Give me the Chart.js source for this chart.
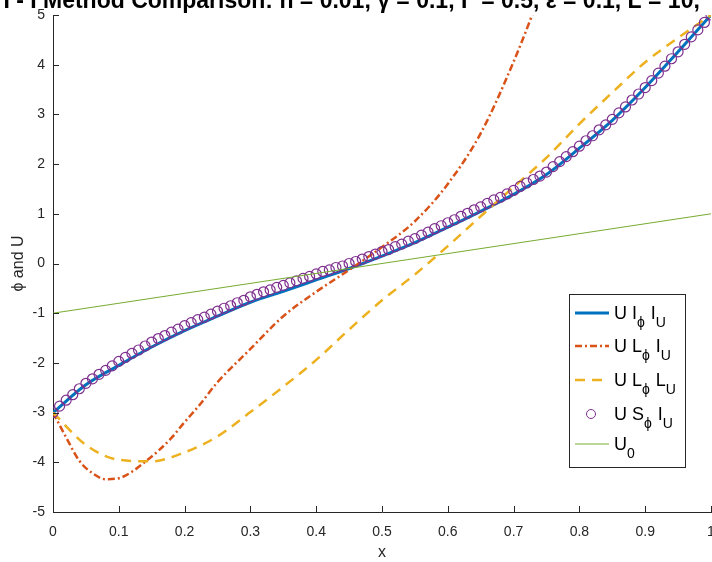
<!DOCTYPE html>
<html><head><meta charset="utf-8">
<script src="https://cdn.jsdelivr.net/npm/chart.js@4/dist/chart.umd.min.js"></script>
<style>html,body{margin:0;padding:0;background:#fff;overflow:hidden}</style>
</head><body>
<canvas id="c" width="712" height="562"></canvas>
<script>
// ---------------- data ----------------
const titleText = 'I - I Method Comparison: h = 0.01, γ = 0.1, Γ = 0.5, ε = 0.1, L = 10, ';
const xAxisTitle = 'x';
const yAxisTitle = 'ϕ and U';
const xTickValues = [0,0.1,0.2,0.3,0.4,0.5,0.6,0.7,0.8,0.9,1];
const yTickValues = [-5,-4,-3,-2,-1,0,1,2,3,4,5];

const seriesLabels = ['U I_ϕ I_U','U L_ϕ I_U','U L_ϕ L_U','U S_ϕ I_U','U_0'];

const xGrid = [0,0.05,0.10,0.15,0.20,0.25,0.30,0.35,0.40,0.45,0.50,0.55,0.60,0.65,0.70,0.75,0.80,0.85,0.90,0.95,1.00];
const uIphiIU = [-3.00,-2.44,-2.05,-1.68,-1.35,-1.06,-0.78,-0.56,-0.33,-0.10,0.15,0.42,0.73,1.05,1.39,1.79,2.32,2.88,3.54,4.26,5.00];
const uLphiLU = [-3.00,-3.65,-3.95,-3.98,-3.80,-3.48,-2.99,-2.48,-1.94,-1.33,-0.74,-0.22,0.35,0.95,1.54,2.13,2.81,3.44,4.05,4.54,5.00];

const xRed = [0,0.02,0.04,0.06,0.08,0.10,0.12,0.14,0.16,0.18,0.20,0.22,0.25,0.30,0.35,0.40,0.45,0.50,0.55,0.60,0.65,0.70,0.75];
const uLphiIU = [-3.00,-3.50,-3.97,-4.22,-4.34,-4.32,-4.19,-3.99,-3.77,-3.51,-3.19,-2.89,-2.39,-1.72,-1.06,-0.57,-0.13,0.33,0.85,1.60,2.62,4.06,5.75];

const xFine = [0,0.01,0.02,0.03,0.04,0.05,0.06,0.07,0.08,0.09,
0.10,0.11,0.12,0.13,0.14,0.15,0.16,0.17,0.18,0.19,
0.20,0.21,0.22,0.23,0.24,0.25,0.26,0.27,0.28,0.29,
0.30,0.31,0.32,0.33,0.34,0.35,0.36,0.37,0.38,0.39,
0.40,0.41,0.42,0.43,0.44,0.45,0.46,0.47,0.48,0.49,
0.50,0.51,0.52,0.53,0.54,0.55,0.56,0.57,0.58,0.59,
0.60,0.61,0.62,0.63,0.64,0.65,0.66,0.67,0.68,0.69,
0.70,0.71,0.72,0.73,0.74,0.75,0.76,0.77,0.78,0.79,
0.80,0.81,0.82,0.83,0.84,0.85,0.86,0.87,0.88,0.89,
0.90,0.91,0.92,0.93,0.94,0.95,0.96,0.97,0.98,0.99,1.00];
const uSphiIU = [-3.00,-2.87,-2.75,-2.64,-2.52,-2.41,-2.32,-2.23,-2.15,-2.06,
-1.97,-1.89,-1.81,-1.74,-1.66,-1.58,-1.51,-1.45,-1.38,-1.32,
-1.25,-1.19,-1.13,-1.08,-1.02,-0.96,-0.90,-0.85,-0.79,-0.74,
-0.67,-0.62,-0.57,-0.53,-0.48,-0.44,-0.39,-0.35,-0.30,-0.26,
-0.21,-0.16,-0.13,-0.08,-0.05,0.00,0.04,0.09,0.14,0.19,
0.24,0.28,0.34,0.39,0.45,0.50,0.57,0.63,0.70,0.76,
0.82,0.88,0.95,1.01,1.08,1.14,1.21,1.28,1.33,1.40,
1.47,1.55,1.62,1.69,1.76,1.84,1.95,2.05,2.15,2.25,
2.36,2.47,2.57,2.69,2.79,2.90,3.03,3.15,3.29,3.41,
3.54,3.68,3.83,3.97,4.12,4.26,4.41,4.56,4.70,4.85,5.00];

const xU0 = [0,1];
const u0 = [-1,1];

// ---------------- build ----------------
const pts = (xs, ys) => xs.map((x,i)=>({x:x, y:ys[i]}));
const FONT = '"Liberation Sans", Arial, Helvetica, sans-serif';
const AXIS = '#262626';

const datasets = [
  {label:seriesLabels[0], data:pts(xGrid,uIphiIU), showLine:true, borderColor:'#0072BD', borderWidth:3,
   pointRadius:0, cubicInterpolationMode:'monotone', order:5, clip:0},
  {label:seriesLabels[1], data:pts(xRed,uLphiIU), showLine:true, borderColor:'#D95319', borderWidth:2.5,
   borderDash:[7,3,2,3], pointRadius:0, cubicInterpolationMode:'monotone', order:4, clip:0},
  {label:seriesLabels[2], data:pts(xGrid,uLphiLU), showLine:true, borderColor:'#EDB120', borderWidth:2.5,
   borderDash:[10,7], pointRadius:0, cubicInterpolationMode:'monotone', order:3, clip:0},
  {label:seriesLabels[3], data:pts(xFine,uSphiIU), showLine:false, borderColor:'#7E2F8E', backgroundColor:'rgba(0,0,0,0)',
   pointRadius:5, pointBorderWidth:1.2, pointBorderColor:'#7E2F8E', pointBackgroundColor:'rgba(0,0,0,0)', order:2, clip:0},
  {label:seriesLabels[4], data:pts(xU0,u0), showLine:true, borderColor:'#77AC30', borderWidth:1,
   pointRadius:0, order:1, clip:0}
];

function parseLabel(s){
  const parts=[]; let buf='';
  for(let i=0;i<s.length;i++){
    if(s[i]==='_' && i+1<s.length){ if(buf){parts.push([buf,false]);buf='';} parts.push([s[i+1],true]); i++; }
    else buf+=s[i];
  }
  if(buf) parts.push([buf,false]);
  return parts;
}

const bgPlugin = {id:'bg', beforeDraw(chart){const c=chart.ctx;c.save();c.fillStyle='#fff';c.fillRect(0,0,chart.width,chart.height);c.restore();}};

const ticksPlugin = {id:'inticks', afterDatasetsDraw(chart){
  const c=chart.ctx, xs=chart.scales.x, ys=chart.scales.y, a=chart.chartArea;
  c.save(); c.strokeStyle=AXIS; c.lineWidth=1;
  xTickValues.forEach(v=>{const p=Math.round(xs.getPixelForValue(v))+0.5; c.beginPath(); c.moveTo(p,a.bottom); c.lineTo(p,a.bottom-6); c.stroke();});
  yTickValues.forEach(v=>{const p=Math.round(ys.getPixelForValue(v))+0.5; c.beginPath(); c.moveTo(a.left,p); c.lineTo(a.left+6,p); c.stroke();});
  c.restore();
}};

const titlePlugin = {id:'ttl', afterDraw(chart){
  const c=chart.ctx; c.save();
  const ref='Method Comparison: h = 0.01, γ = 0.1, Γ = 0.5, ε = 0.1, L = 10,';
  c.font='bold 17px '+FONT;
  const w=c.measureText(ref).width;
  const size=17*657/w;
  c.font='bold '+size.toFixed(2)+'px '+FONT;
  const pre=c.measureText('I - I ').width;
  c.fillStyle='#000'; c.textBaseline='alphabetic'; c.textAlign='left';
  c.fillText(titleText, 43-pre, 8);
  c.restore();
}};

const legendPlugin = {id:'lg', afterDraw(chart){
  const c=chart.ctx; c.save();
  const bx=569.5, by=294.5, bw=116, bh=173;
  c.fillStyle='#fff'; c.fillRect(bx,by,bw,bh);
  c.strokeStyle=AXIS; c.lineWidth=1; c.strokeRect(bx,by,bw,bh);
  const rowY=[313,346,380,414,444];
  const ds=chart.data.datasets;
  ds.forEach((d,i)=>{
    const y=rowY[i];
    c.save();
    if(d.showLine){
      c.strokeStyle=d.borderColor; c.lineWidth=d.borderWidth; c.setLineDash(d.borderDash||[]);
      c.beginPath(); c.moveTo(575,y); c.lineTo(609,y); c.stroke();
    } else {
      c.strokeStyle=d.pointBorderColor; c.lineWidth=1;
      c.beginPath(); c.arc(591,y,4.5,0,Math.PI*2); c.stroke();
    }
    c.restore();
    let x=614;
    c.fillStyle='#000'; c.textBaseline='alphabetic'; c.textAlign='left';
    parseLabel(d.label).forEach(([t,sub])=>{
      c.font=(sub?'14px ':'18px ')+FONT;
      c.fillText(t,x,sub? y+14 : y+6);
      x+=c.measureText(t).width+(sub?1:0);
    });
  });
  c.restore();
}};

new Chart(document.getElementById('c'), {
  type:'scatter',
  data:{datasets},
  options:{
    responsive:false, animation:false, devicePixelRatio:1,
    layout:{autoPadding:false, padding:{top:15,right:1,left:0,bottom:0}},
    plugins:{legend:{display:false}, tooltip:{enabled:false}, title:{display:false}},
    scales:{
      x:{type:'linear', position:'bottom', min:0, max:1,
        afterBuildTicks(s){ s.ticks = xTickValues.map(v=>({value:v})); },
        afterFit(s){ s.height=50; s.paddingLeft=0; s.paddingRight=0; },
        ticks:{padding:12, color:AXIS, font:{family:FONT,size:14}, maxRotation:0, autoSkip:false,
          callback:(v)=>String(Number(v.toFixed(1)))},
        grid:{drawOnChartArea:false, drawTicks:false},
        border:{display:true,color:AXIS,width:1},
        title:{display:true, text:xAxisTitle, color:AXIS, font:{family:FONT,size:16}, padding:{top:0,bottom:0}}
      },
      y:{type:'linear', position:'left', min:-5, max:5,
        afterBuildTicks(s){ s.ticks = yTickValues.map(v=>({value:v})); },
        afterFit(s){ s.width=53; s.paddingTop=0; s.paddingBottom=0; },
        ticks:{padding:8, color:AXIS, font:{family:FONT,size:14}, autoSkip:false},
        grid:{drawOnChartArea:false, drawTicks:false},
        border:{display:true,color:AXIS,width:1},
        title:{display:true, text:yAxisTitle, color:AXIS, font:{family:FONT,size:16}, padding:{top:9,bottom:0}}
      }
    }
  },
  plugins:[bgPlugin,ticksPlugin,titlePlugin,legendPlugin]
});
</script>
</body></html>
